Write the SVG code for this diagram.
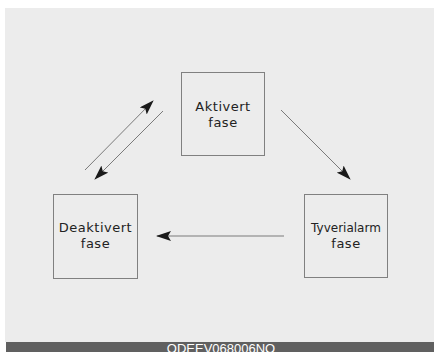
<svg xmlns="http://www.w3.org/2000/svg" width="434" height="352" viewBox="0 0 434 352">
<style>
.box{fill:none;stroke:#808080;stroke-width:1}
.lbl{font-family:"DejaVu Sans","Liberation Sans",sans-serif;font-size:13px;letter-spacing:0.5px;fill:#222;text-anchor:middle}
.con{stroke:#7a7a7a;stroke-width:1;fill:none;marker-end:url(#ah)}
</style>
<defs>
<marker id="ah" markerWidth="15" markerHeight="10" refX="14" refY="5" orient="auto" markerUnits="userSpaceOnUse">
<path d="M0,0 L15,5 L0,10 L3,5 Z" fill="#1a1a1a"/>
</marker>
</defs>
<rect x="0" y="0" width="434" height="352" fill="#ffffff"/>
<rect x="5" y="8" width="429" height="334" fill="#ececec"/>
<rect x="6" y="342" width="428" height="10" fill="#606060"/>
<text x="221" y="352.5" font-family="Liberation Sans,sans-serif" font-size="13" fill="#ffffff" text-anchor="middle">ODEEV068006NO</text>
<g id="connectors">
<line class="con" x1="85" y1="170" x2="153" y2="101"/>
<line class="con" x1="163" y1="111" x2="95" y2="179"/>
<line class="con" x1="281" y1="110" x2="350" y2="179"/>
<line class="con" x1="284" y1="236" x2="157" y2="236"/>
</g>
<g id="aktivert">
<rect class="box" x="181.5" y="72.5" width="83" height="83"/>
<text class="lbl" x="223" y="111">Aktivert</text>
<text class="lbl" x="223" y="127">fase</text>
</g>
<g id="deaktivert">
<rect class="box" x="53.5" y="194.5" width="84" height="84"/>
<text class="lbl" x="95.5" y="232">Deaktivert</text>
<text class="lbl" x="95.5" y="248">fase</text>
</g>
<g id="tyverialarm">
<rect class="box" x="304.5" y="194.5" width="83" height="83"/>
<text class="lbl" x="346" y="232" style="font-size:12px;letter-spacing:0">Tyverialarm</text>
<text class="lbl" x="346" y="248">fase</text>
</g>
</svg>
